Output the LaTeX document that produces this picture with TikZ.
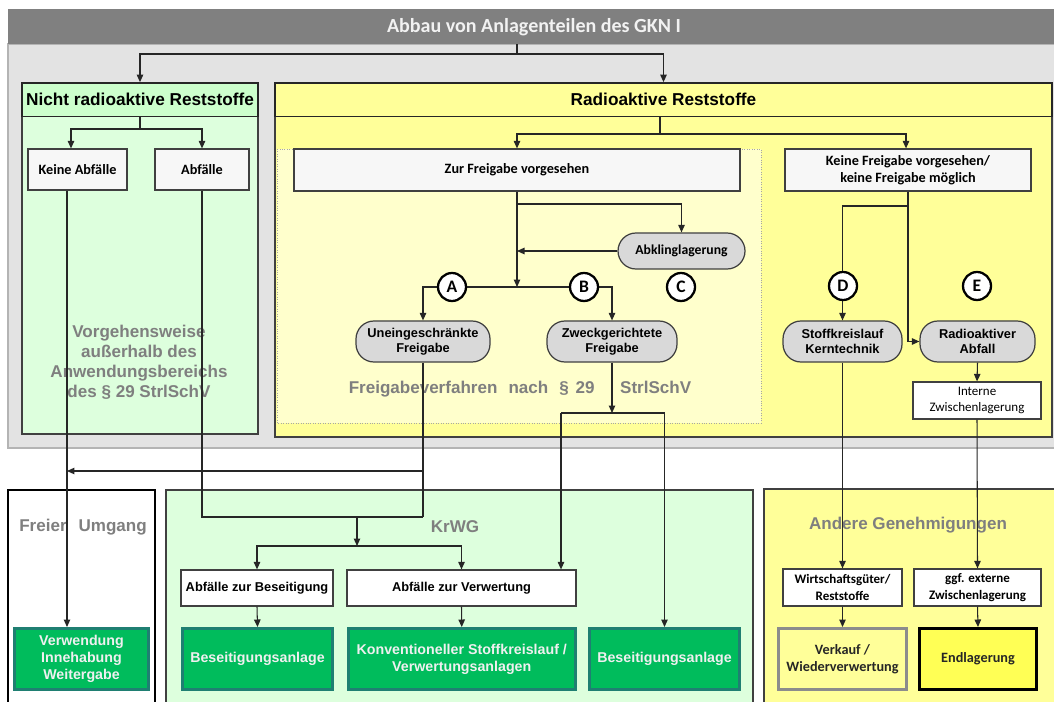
\documentclass[tikz,border=0pt]{standalone}
\usepackage{fontspec}
\setmainfont{Liberation Sans}
\newfontfamily\calib{Carlito}
\usetikzlibrary{arrows.meta,calc}

\newcommand\pxu{0.02cm}
\definecolor{titlegray}{HTML}{808080}
\definecolor{bggray}{HTML}{E3E3E3}
\definecolor{bgedge}{HTML}{B4B4B4}
\definecolor{nrgreen}{HTML}{CCFFCC}
\definecolor{panelgreen}{HTML}{DDFFDD}
\definecolor{rayellow}{HTML}{FFFF99}
\definecolor{paleyellow}{HTML}{FFFFCC}
\definecolor{boxfill}{HTML}{F7F7F7}
\definecolor{pillgray}{HTML}{D9D9D9}
\definecolor{edgegray}{HTML}{404040}
\definecolor{labelgray}{HTML}{7F7F7F}
\definecolor{goalgreen}{HTML}{00BC5C}
\definecolor{goaledge}{HTML}{1F7F72}
\definecolor{endyellow}{HTML}{FFFF55}

\tikzset{
  >={Triangle[length=1.5mm,width=1.3mm]},
  conn/.style={draw=black!85, line width=0.6pt},
  flow/.style={conn,->},
  header/.style={draw=black!85, line width=1pt, inner sep=0pt,
    font=\bfseries\fontsize{9.8}{11}\selectfont},
  whitebox/.style={draw=edgegray, fill=boxfill, line width=0.7pt, inner sep=0pt,
    align=center, font=\calib\bfseries\fontsize{8.1}{9.7}\selectfont},
  pill/.style={draw=edgegray, fill=pillgray, line width=0.7pt, rounded corners=0.36cm,
    inner sep=0pt, align=center, font=\bfseries\fontsize{7.3}{8.5}\selectfont},
  letter/.style={circle, draw=black, fill=white, line width=1.3pt, inner sep=0pt,
    minimum size=28*\pxu, font=\calib\bfseries\fontsize{10}{10}\selectfont},
  goal/.style={draw=goaledge, fill=goalgreen, line width=1.7pt, inner sep=0pt,
    align=center, minimum height=61*\pxu, text=white!94!black,
    font=\bfseries\fontsize{8.1}{9.7}\selectfont},
  sectlabel/.style={text=labelgray, align=center,
    font=\bfseries\fontsize{9.7}{11.4}\selectfont}
}

\begin{document}
\begin{tikzpicture}[x=0.02cm,y=-0.02cm]
\clip (0,0) rectangle (1054,702);
\fill[white] (0,0) rectangle (1054,702);

% Dismantling area with title bar
\draw[bgedge, fill=bggray, line width=1.2pt] (8,44) rectangle (1070,448);
\node[fill=titlegray, text=white!95!black, minimum width=1052*\pxu, minimum height=34.5*\pxu,
  inner sep=0pt, font=\calib\bfseries\fontsize{11.4}{13}\selectfont] (title) at (534,26.75)
  {Abbau von Anlagenteilen des GKN I};

% Left column - non radioactive
\draw[edgegray, fill=panelgreen, line width=0.8pt] (22,116.5) rectangle (258,434);
\node[header, fill=nrgreen, minimum width=236*\pxu, minimum height=33.5*\pxu] (nrs) at (140,99.75)
  {Nicht radioaktive Reststoffe};
\node[sectlabel] (vorgehen) at (139,362)
  {Vorgehensweise\\außerhalb des\\Anwendungsbereichs\\des § 29 StrlSchV};

% Right column - radioactive
\draw[edgegray, fill=rayellow, line width=0.8pt] (275,116.5) rectangle (1052,437);
\node[header, fill=rayellow, minimum width=777*\pxu, minimum height=33.5*\pxu] (rs) at (663.5,99.75)
  {Radioaktive Reststoffe};
\draw[black!35, densely dotted, fill=paleyellow] (277,149) rectangle (761,423);
\node[sectlabel] (verfahren) at (520,389)
  {Freigabeverfahren\hspace{0.65em}nach\hspace{0.65em}§\hspace{0.4em}29\hspace{1.5em}StrlSchV};

% Bottom areas
\draw[black, fill=white, line width=0.8pt] (8,490) rectangle (155,720);
\draw[edgegray, fill=panelgreen, line width=0.8pt] (166,490) rectangle (753,720);
\draw[edgegray, fill=rayellow, line width=0.8pt] (764,489) rectangle (1070,720);
\node[sectlabel] (freier) at (83,527) {Freier\hspace{0.7em}Umgang};
\node[sectlabel] (krwg) at (455,527) {KrWG};
\node[sectlabel] (andere) at (908,525) {Andere Genehmigungen};

% Boxes
\node[whitebox, minimum width=99*\pxu, minimum height=41*\pxu] (keine) at (77.5,169.5) {Keine Abfälle};
\node[whitebox, minimum width=94*\pxu, minimum height=41*\pxu] (abf) at (202,169.5) {Abfälle};
\node[whitebox, minimum width=446*\pxu, minimum height=42*\pxu] (zur) at (517,170) {Zur Freigabe vorgesehen};
\node[whitebox, minimum width=246*\pxu, minimum height=42*\pxu] (kfv) at (908,170)
  {Keine Freigabe vorgesehen/\\keine Freigabe möglich};
\node[pill, minimum width=127*\pxu, minimum height=36*\pxu, font=\calib\bfseries\fontsize{7.8}{9}\selectfont]
  (abkl) at (681.5,251) {Abklinglagerung};
\node[pill, minimum width=134*\pxu, minimum height=41*\pxu] (une) at (423,341.5) {Uneingeschränkte\\Freigabe};
\node[pill, minimum width=130*\pxu, minimum height=41*\pxu] (zwe) at (612,341.5) {Zweckgerichtete\\Freigabe};
\node[pill, minimum width=119*\pxu, minimum height=41*\pxu] (stoff) at (842.5,341.5) {Stoffkreislauf\\Kerntechnik};
\node[pill, minimum width=115*\pxu, minimum height=41*\pxu] (raa) at (977.5,341.5) {Radioaktiver\\Abfall};
\node[whitebox, fill=white, minimum width=128*\pxu, minimum height=37*\pxu,
  font=\calib\fontsize{7.4}{9}\selectfont] (interne) at (977,400.5) {Interne\\Zwischenlagerung};

\node[whitebox, fill=white, minimum width=152*\pxu, minimum height=36*\pxu,
  font=\bfseries\fontsize{7.3}{9}\selectfont] (azb) at (257,588) {Abfälle zur Beseitigung};
\node[whitebox, fill=white, minimum width=229*\pxu, minimum height=36*\pxu,
  font=\bfseries\fontsize{7.3}{9}\selectfont] (azv) at (461.5,588) {Abfälle zur Verwertung};
\node[whitebox, fill=white, minimum width=119*\pxu, minimum height=37*\pxu,
  font=\calib\bfseries\fontsize{7.4}{9.5}\selectfont] (wg) at (842.5,587.5) {Wirtschaftsgüter/\\Reststoffe};
\node[whitebox, fill=white, minimum width=127*\pxu, minimum height=37*\pxu,
  font=\calib\bfseries\fontsize{7.4}{9.5}\selectfont] (ggf) at (977.5,587.5) {ggf. externe\\Zwischenlagerung};

% Final destinations
\node[goal, minimum width=134*\pxu] (verw) at (81.5,659) {Verwendung\\Innehabung\\Weitergabe};
\node[goal, minimum width=150*\pxu] (bes1) at (257.5,659) {Beseitigungsanlage};
\node[goal, minimum width=227*\pxu] (konv) at (461.75,659) {Konventioneller Stoffkreislauf /\\Verwertungsanlagen};
\node[goal, minimum width=150*\pxu] (bes2) at (664.5,659) {Beseitigungsanlage};
\node[goal, draw=black!45, fill=rayellow, text=black!85, minimum width=128*\pxu,
  font=\calib\bfseries\fontsize{8.1}{10}\selectfont] (verk) at (842.5,659) {Verkauf /\\Wiederverwertung};
\node[goal, draw=black, fill=endyellow, text=black!85, minimum width=117*\pxu,
  font=\calib\bfseries\fontsize{8.1}{10}\selectfont] (endl) at (978,659) {Endlagerung};

% Connectors - top
\coordinate (tsplit) at (517,54);
\draw[flow] (title.south -| tsplit) -- (tsplit) -| (nrs.north);
\draw[flow] (tsplit) -| (rs.north);
\coordinate (nsplit) at (140,129);
\draw[conn] (nrs.south) -- (nsplit);
\draw[flow] (nsplit) -| ($(keine.north)+(-6.5,0)$);
\draw[flow] (nsplit) -| (abf.north);
\coordinate (rsplit) at (660,134);
\draw[conn] (rs.south -| rsplit) -- (rsplit);
\draw[flow] (rsplit) -| (zur.north);
\draw[flow] (rsplit) -| ($(kfv.north)+(-2,0)$);

% Connectors - clearance
\coordinate (fsplit) at (517,287);
\coordinate (abbranch) at (517,204);
\draw[flow] (zur.south) -- (fsplit);
\draw[flow] (abbranch) -| (abkl.north);
\draw[flow] (abkl.west) -- (abkl.west -| fsplit);
\draw[flow] (fsplit) -| (une.north);
\draw[flow] (fsplit) -| (zwe.north);

% Connectors - no clearance
\coordinate (ksplit) at (908,206);
\draw[conn] (kfv.south) -- (ksplit);
\draw[flow] (ksplit) -| (stoff.north);
\draw[flow] (ksplit) |- (raa.west);
\draw[flow] (raa.south) -- (interne.north);

% Connectors - down to the bottom areas
\coordinate (keinex) at ($(keine.south)+(-10.5,0)$);
\coordinate (ubranch) at (423,471);
\coordinate (kmerge) at (423,517);
\coordinate (kdrop) at (357,517);
\coordinate (ksplit2) at (357,546);
\draw[flow] (keinex) -- (keinex |- verw.north);
\draw[conn] (une.south) -- (kmerge);
\draw[flow] (ubranch) -- (ubranch -| keinex);
\draw[conn] (abf.south) |- (kmerge);
\draw[flow] (kdrop) -- (ksplit2);
\draw[flow] (ksplit2) -| (azb.north);
\draw[flow] (ksplit2) -| (azv.north);
\coordinate (zleft) at (561,413);
\draw[flow] (zwe.south) -- (zwe.south |- zleft);
\draw[flow] (zleft) -- (zleft |- azv.north);
\draw[flow] (zleft) -| (bes2.north);
\draw[flow] (stoff.south) -- (wg.north);
\draw[flow] (interne.south) -- (ggf.north);
\draw[flow] (azb.south) -- (bes1.north);
\draw[flow] (azv.south) -- (konv.north);
\draw[flow] (wg.south) -- (verk.north);
\draw[flow] (ggf.south) -- (endl.north);

% Letters
\node[letter] (la) at (452,287) {A};
\node[letter] (lb) at (584,287) {B};
\node[letter] (lc) at (681,287) {C};
\node[letter] (ld) at (843,286) {D};
\node[letter] (le) at (977,286) {E};
\end{tikzpicture}
\end{document}
